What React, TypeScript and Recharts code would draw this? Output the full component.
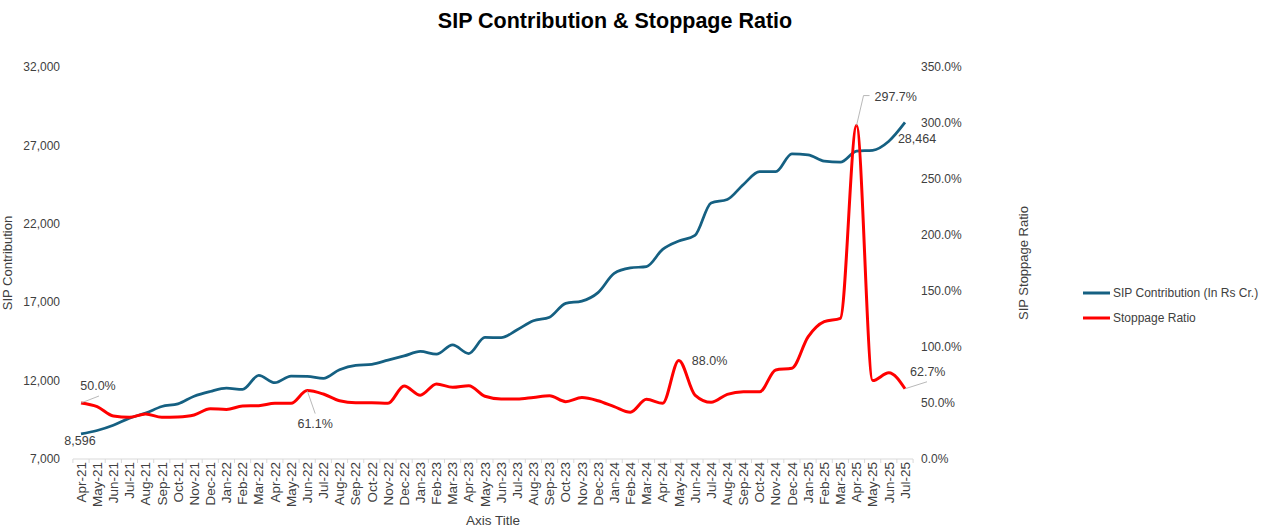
import React from "react";
import { LineChart, Line, XAxis, YAxis } from "recharts";

const months = [
  "Apr-21", "May-21", "Jun-21", "Jul-21", "Aug-21", "Sep-21", "Oct-21", "Nov-21", "Dec-21",
  "Jan-22", "Feb-22", "Mar-22", "Apr-22", "May-22", "Jun-22", "Jul-22", "Aug-22", "Sep-22", "Oct-22", "Nov-22", "Dec-22",
  "Jan-23", "Feb-23", "Mar-23", "Apr-23", "May-23", "Jun-23", "Jul-23", "Aug-23", "Sep-23", "Oct-23", "Nov-23", "Dec-23",
  "Jan-24", "Feb-24", "Mar-24", "Apr-24", "May-24", "Jun-24", "Jul-24", "Aug-24", "Sep-24", "Oct-24", "Nov-24", "Dec-24",
  "Jan-25", "Feb-25", "Mar-25", "Apr-25", "May-25", "Jun-25", "Jul-25",
];

// SIP contribution, Rs Cr.
const sipContribution = [
  8596, 8819, 9156, 9609, 9923, 10351, 10519, 11005, 11305,
  11517, 11438, 12328, 11863, 12286, 12276, 12140, 12693, 12976, 13041, 13306, 13573,
  13856, 13686, 14276, 13728, 14749, 14734, 15245, 15814, 16042, 16928, 17073, 17610,
  18838, 19187, 19271, 20371, 20904, 21262, 23332, 23547, 24509, 25323, 25320, 26459,
  26400, 25999, 25926, 26632, 26688, 27269, 28464,
];

// stoppage ratio, %
const stoppageRatio = [
  50.0, 46.7, 38.4, 37.2, 40.2, 37.2, 37.5, 39.3, 44.9,
  44.3, 47.3, 47.6, 49.7, 49.7, 61.1, 58.0, 52.0, 50.3, 50.3, 49.7, 65.2,
  57.0, 67.0, 64.0, 65.5, 56.0, 53.6, 53.6, 55.0, 56.5, 51.2, 54.8, 52.0,
  46.7, 41.7, 53.3, 49.7, 88.0, 57.1, 50.6, 57.7, 60.1, 60.0, 79.5, 81.0,
  109.0, 122.6, 125.6, 297.7, 70.0, 77.0, 62.7,
];

const leftTicks = [7000, 12000, 17000, 22000, 27000, 32000];
const rightTicks = [0, 50, 100, 150, 200, 250, 300, 350];

const data = months.map((m, i) => ({
  month: m,
  sip: sipContribution[i],
  ratio: stoppageRatio[i],
}));

const FONT = "'Liberation Sans', Arial, sans-serif";
const TEXT = "#404040";
const BLUE = "#156082";
const RED = "#ff0000";

const W = 1263;
const H = 529;
const PLOT_LEFT = 73;
const PLOT_RIGHT = 913;
const PLOT_TOP = 67;
const PLOT_BOTTOM = 459;
const X_PAD = 8;
const STEP = (PLOT_RIGHT - PLOT_LEFT - 2 * X_PAD) / (months.length - 1);

// where each data label sits relative to its point
const sipLabels = {
  0: { dx: -1, dy: 11, anchor: "middle" },
  51: { dx: 12, dy: 21, anchor: "middle" },
};
const ratioLabels = {
  0: { dx: 17, dy: -13, anchor: "middle", leader: [[0, 0], [18, -7]] },
  14: { dx: 8, dy: 37, anchor: "middle", leader: [[0, 0], [8, 23]] },
  37: { dx: 13, dy: 5, anchor: "start" },
  48: { dx: 18, dy: -25, anchor: "start", leader: [[0, 0], [7, -30], [13, -30]] },
  51: { dx: 5, dy: -13, anchor: "start", leader: [[0, 0], [22, -7]] },
};

const makeLabel = (specs: any, fmt: (v: number) => string) => (props: any) => {
  const { x, y, value, index } = props;
  const spec = specs[index];
  if (!spec || x == null || y == null) return null;
  return (
    <g key={`lbl-${index}`}>
      {spec.leader && (
        <polyline
          points={spec.leader.map((p: number[]) => `${x + p[0]},${y + p[1]}`).join(" ")}
          fill="none"
          stroke="#a6a6a6"
          strokeWidth={0.8}
        />
      )}
      <text
        x={x + spec.dx}
        y={y + spec.dy}
        textAnchor={spec.anchor}
        fontSize={12.5}
        fontFamily={FONT}
        fill={TEXT}
      >
        {fmt(value)}
      </text>
    </g>
  );
};

const MonthTick = (props: any) => {
  const { x, payload, index } = props;
  const axisY = PLOT_BOTTOM;
  const last = index === months.length - 1;
  return (
    <g>
      <line x1={x - STEP / 2} x2={x - STEP / 2} y1={axisY} y2={axisY + 4} stroke="#d9d9d9" />
      {last && <line x1={x + STEP / 2} x2={x + STEP / 2} y1={axisY} y2={axisY + 4} stroke="#d9d9d9" />}
      <text
        x={x}
        y={axisY + 3}
        dy="0.35em"
        transform={`rotate(-90, ${x}, ${axisY + 3})`}
        textAnchor="end"
        fontSize={13.5}
        fontFamily={FONT}
        fill={TEXT}
      >
        {payload.value}
      </text>
    </g>
  );
};

export default function App() {
  return (
    <div style={{ position: "absolute", left: 0, top: 0, width: W, height: H, background: "#fff" }}>
      <LineChart
        width={W}
        height={H}
        data={data}
        margin={{ top: PLOT_TOP, right: W - PLOT_RIGHT - 100, bottom: 0, left: 0 }}
      >
        <XAxis
          dataKey="month"
          interval={0}
          height={H - PLOT_BOTTOM}
          padding={{ left: X_PAD, right: X_PAD }}
          axisLine={{ stroke: "#d9d9d9" }}
          tickLine={false}
          tick={<MonthTick />}
        />
        <YAxis
          yAxisId="left"
          orientation="left"
          width={PLOT_LEFT}
          domain={[7000, 32000]}
          ticks={leftTicks}
          axisLine={false}
          tickLine={false}
          tickMargin={7}
          tick={{ fontSize: 12, fontFamily: FONT, fill: TEXT }}
          tickFormatter={(v: number) => v.toLocaleString("en-US")}
        />
        <YAxis
          yAxisId="right"
          orientation="right"
          width={100}
          domain={[0, 350]}
          ticks={rightTicks}
          axisLine={false}
          tickLine={false}
          tick={{ fontSize: 12, fontFamily: FONT, fill: TEXT, textAnchor: "start" }}
          tickFormatter={(v: number) => `${v.toFixed(1)}%`}
        />
        <Line
          yAxisId="left"
          dataKey="sip"
          type="monotone"
          stroke={BLUE}
          strokeWidth={2.75}
          dot={false}
          isAnimationActive={false}
          label={makeLabel(sipLabels, (v) => v.toLocaleString("en-US"))}
        />
        <Line
          yAxisId="right"
          dataKey="ratio"
          type="monotone"
          stroke={RED}
          strokeWidth={3}
          dot={false}
          isAnimationActive={false}
          label={makeLabel(ratioLabels, (v) => `${v.toFixed(1)}%`)}
        />
      </LineChart>
      <svg
        width={W}
        height={H}
        style={{ position: "absolute", left: 0, top: 0, pointerEvents: "none" }}
        fontFamily={FONT}
      >
        <text x={615} y={28} textAnchor="middle" fontSize={21.5} fontWeight="bold" fill="#000">
          SIP Contribution &amp; Stoppage Ratio
        </text>
        <text
          x={7}
          y={263}
          textAnchor="middle"
          dy="0.35em"
          fontSize={13}
          fill={TEXT}
          transform="rotate(-90, 7, 263)"
        >
          SIP Contribution
        </text>
        <text
          x={1023}
          y={263}
          textAnchor="middle"
          dy="0.35em"
          fontSize={13}
          fill={TEXT}
          transform="rotate(-90, 1023, 263)"
        >
          SIP Stoppage Ratio
        </text>
        <text x={493} y={525} textAnchor="middle" fontSize={13.5} fill={TEXT}>
          Axis Title
        </text>
        <line x1={1083} x2={1110} y1={293} y2={293} stroke={BLUE} strokeWidth={3} />
        <text x={1113} y={297} fontSize={12} fill={TEXT}>
          SIP Contribution (In Rs Cr.)
        </text>
        <line x1={1083} x2={1110} y1={318} y2={318} stroke={RED} strokeWidth={3} />
        <text x={1113} y={322} fontSize={12} fill={TEXT}>
          Stoppage Ratio
        </text>
      </svg>
    </div>
  );
}
